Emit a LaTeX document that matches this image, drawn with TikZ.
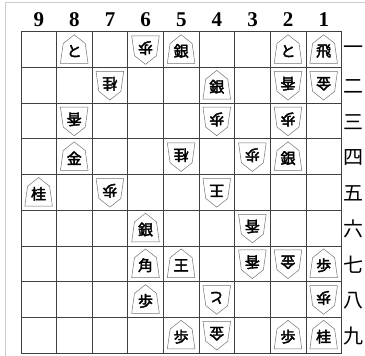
\documentclass[tikz,border=0pt]{standalone}
\usepackage{fontspec}
\setmainfont{Liberation Serif}
\newfontfamily\jpfont{Noto Sans CJK JP}
\newfontfamily\komafont[FakeBold=2.5]{Noto Sans CJK JP}
\usetikzlibrary{calc}
\tikzset{
  boardline/.style={draw=black!75, line width=0.8pt},
  outerframe/.style={draw=black!20, line width=0.8pt},
  filenum/.style={font=\bfseries\fontsize{21}{21}\selectfont, inner sep=0pt},
  ranknum/.style={font=\jpfont\fontsize{20}{20}\selectfont, inner sep=0pt},
  komaedge/.style={draw=black!55, fill=white, line width=0.5pt},
  komatext/.style={font=\komafont\fontsize{15}{15}\selectfont, inner sep=0pt}
}
% one piece: x, y, letter, angle (0 = sente, 180 = gote), name
\newcommand\koma[5]{%
  \begin{scope}[shift={(#1,#2)}, rotate=#4]
    \path[komaedge] (0,-14.3) -- (11,-5.6) -- (13.8,14.3) -- (-13.8,14.3) -- (-11,-5.6) -- cycle;
    \node[komatext, rotate=#4] (#5) at (0,2) {#3};
  \end{scope}}

\begin{document}
\begin{tikzpicture}[x=1pt,y=-1pt]
\useasboundingbox (0,0) rectangle (365,356);
\draw[outerframe] (5,356) -- (5,2.3) -- (365,2.3);
% board
\foreach \i in {0,...,9} {
  \draw[boardline] ({21+35.63*\i},31.7) -- ({21+35.63*\i},353);
  \draw[boardline] (21,{31.7+35.7*\i}) -- (341.7,{31.7+35.7*\i});
}
% file and rank labels
\foreach \f in {1,...,9}
  \node[filenum] (file\f) at ({21+35.63*(9-\f)+17.8},20) {\f};
\foreach \r/\n in {1/一,2/二,3/三,4/四,5/五,6/六,7/七,8/八,9/九}
  \node[ranknum] (rank\r) at (353.5,{31.7+35.7*(\r-0.5)+1}) {\n};
% sente pieces
\foreach \f/\r/\k in {8/1/と,5/1/銀,2/1/と,1/1/飛,4/2/銀,8/4/金,2/4/銀,9/5/桂,
                      6/6/銀,6/7/角,5/7/王,1/7/歩,6/8/歩,5/9/歩,2/9/歩,1/9/桂} {
  \pgfmathsetmacro\px{21+35.63*(9-\f)+17.6}
  \pgfmathsetmacro\py{31.7+35.7*(\r-0.5)-0.5}
  \koma{\px}{\py}{\k}{0}{s\f\r}
}
% gote pieces
\foreach \f/\r/\k in {6/1/歩,7/2/桂,2/2/香,1/2/金,8/3/香,4/3/歩,2/3/歩,5/4/桂,
                      3/4/歩,7/5/歩,4/5/王,3/6/香,3/7/香,2/7/金,4/8/と,1/8/歩,4/9/金} {
  \pgfmathsetmacro\px{21+35.63*(9-\f)+17.6}
  \pgfmathsetmacro\py{31.7+35.7*(\r-0.5)+0.5}
  \koma{\px}{\py}{\k}{180}{g\f\r}
}
\end{tikzpicture}
\end{document}
